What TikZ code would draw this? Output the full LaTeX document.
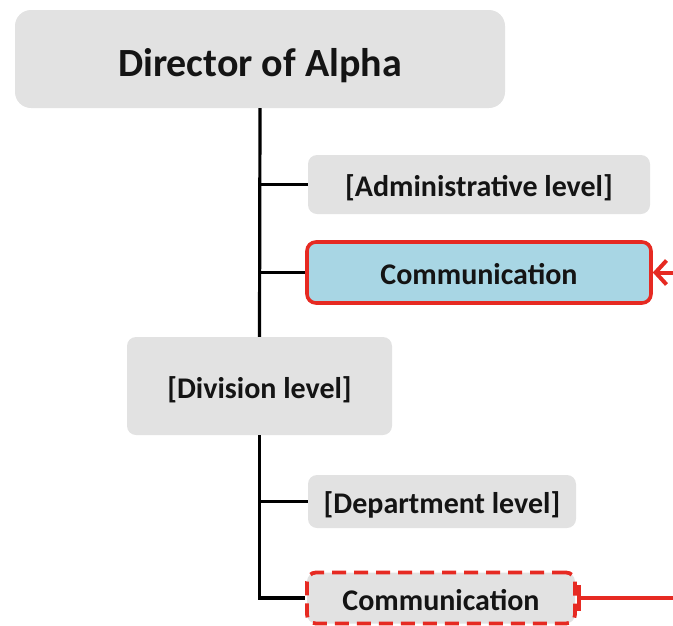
\documentclass[tikz,border=0pt]{standalone}
\usepackage{fontspec}
\setmainfont{Carlito}
\usetikzlibrary{arrows.meta}
\definecolor{boxgray}{HTML}{E2E2E2}
\definecolor{commblue}{HTML}{A8D6E4}
\definecolor{linkred}{HTML}{E62A22}
\definecolor{ink}{HTML}{141414}
\tikzset{
  unit/.style={fill=boxgray, rounded corners=9pt, text=ink,
    font=\bfseries\fontsize{30}{34}\selectfont, inner sep=0pt,
    text height=24pt, text depth=0pt},
  headbox/.style={unit, rounded corners=16pt,
    font=\bfseries\fontsize{40}{46}\selectfont, text height=35pt},
  focusbox/.style={unit, fill=commblue, draw=linkred, line width=3.6pt},
  linkbox/.style={unit, draw=linkred, line width=3.8pt, dash pattern=on 14pt off 8pt},
  tree/.style={draw=black, line width=3.2pt, line join=miter},
  link/.style={draw=linkred, line width=4pt}
}
\begin{document}
\begin{tikzpicture}[x=1pt, y=-1pt]
  \useasboundingbox (0,0) rectangle (673,625);
  \clip (0,0) rectangle (673,625);

  % units of the organisation
  \node[headbox, minimum width=490pt, minimum height=98pt] (dir) at (260,59) {Director of Alpha};
  \node[unit, minimum width=342pt, minimum height=59pt] (adm) at (479,184.5) {[Administrative level]};
  \node[focusbox, minimum width=344pt, minimum height=61pt] (com) at (479,272.5) {Communication};
  \node[unit, minimum width=265pt, minimum height=98pt] (div) at (259.5,386) {[Division level]};
  \node[unit, minimum width=268pt, minimum height=53pt] (dep) at (442,501.5) {[Department level]};
  \node[linkbox, minimum width=268pt, minimum height=51pt] (com2) at (441,598) {Communication};

  % hierarchy lines
  \draw[tree] (dir.south) -- (div.north);
  \draw[tree] (dir.south |- adm.west) -- (adm.west);
  \draw[tree] (dir.south |- com.west) -- (com.west);
  \draw[tree] (div.south) -- (div.south |- com2.west) -- (com2.west);
  \draw[tree] (div.south |- dep.west) -- (dep.west);

  % functional link between the two communication units
  \draw[link, {Bar[width=26pt]}-{Straight Barb[length=11pt, width=24pt]}]
    (com2.east) -- ++(140,0) |- (com.east);
\end{tikzpicture}
\end{document}
